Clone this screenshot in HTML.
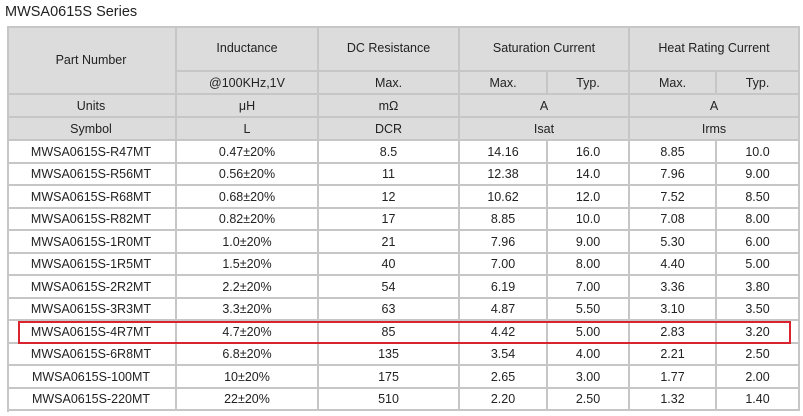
<!DOCTYPE html>
<html><head><meta charset="utf-8"><style>
body{margin:0;width:803px;height:416px;background:#fff;overflow:hidden;font-family:"Liberation Sans",Arial,sans-serif;color:#222;position:relative}
.title{position:absolute;left:5px;top:4px;font-size:14.5px;color:#222}
.c{position:absolute;box-sizing:border-box;border-right:2px solid #c6c6c6;border-bottom:2px solid #c6c6c6;display:flex;align-items:center;justify-content:center;font-size:12.5px}
.h{background:#dcdcdc}
#frame{position:absolute;left:7px;top:26px;width:793px;height:386px;border-left:2px solid #c6c6c6;border-top:2px solid #c6c6c6;box-sizing:border-box;pointer-events:none}
#hl{position:absolute;left:18px;top:321px;width:773px;height:23px;border:2px solid #d9232e;box-sizing:border-box}
</style></head><body>
<div class="title">MWSA0615S Series</div>
<div id="tbl"></div>
<div id="frame"></div>
<div id="hl"></div>
<script>
const parts=["MWSA0615S-R47MT","MWSA0615S-R56MT","MWSA0615S-R68MT","MWSA0615S-R82MT","MWSA0615S-1R0MT","MWSA0615S-1R5MT","MWSA0615S-2R2MT","MWSA0615S-3R3MT","MWSA0615S-4R7MT","MWSA0615S-6R8MT","MWSA0615S-100MT","MWSA0615S-220MT"];
const induct=["0.47±20%","0.56±20%","0.68±20%","0.82±20%","1.0±20%","1.5±20%","2.2±20%","3.3±20%","4.7±20%","6.8±20%","10±20%","22±20%"];
const dcr=["8.5","11","12","17","21","40","54","63","85","135","175","510"];
const isatMax=["14.16","12.38","10.62","8.85","7.96","7.00","6.19","4.87","4.42","3.54","2.65","2.20"];
const isatTyp=["16.0","14.0","12.0","10.0","9.00","8.00","7.00","5.50","5.00","4.00","3.00","2.50"];
const irmsMax=["8.85","7.96","7.52","7.08","5.30","4.40","3.36","3.10","2.83","2.21","1.77","1.32"];
const irmsTyp=["10.0","9.00","8.50","8.00","6.00","5.00","3.80","3.50","3.20","2.50","2.00","1.40"];
const X=[7,177,319,460,548,630,717,800];
const t=document.getElementById('tbl');
function cell(c0,c1,y0,y1,txt,h,name){
  const d=document.createElement('div');
  d.className='c'+(h?' h':'');
  d.style.left=X[c0]+'px';d.style.top=y0+'px';
  d.style.width=(X[c1]-X[c0])+'px';d.style.height=(y1-y0)+'px';
  d.textContent=txt;
  
  
  t.appendChild(d);
}
cell(0,1,26,95,"Part Number",1,"header-part-number");
cell(1,2,26,72,"Inductance",1,"header-inductance");
cell(2,3,26,72,"DC Resistance",1,"header-dc-resistance");
cell(3,5,26,72,"Saturation Current",1,"header-saturation-current");
cell(5,7,26,72,"Heat Rating Current",1,"header-heat-rating-current");
const sub=["@100KHz,1V","Max.","Max.","Typ.","Max.","Typ."];
sub.forEach((s,i)=>cell(i+1,i+2,72,95,s,1,"subheader-cell"));
cell(0,1,95,118,"Units",1,"units-label");
cell(1,2,95,118,"μH",1,"units-cell");
cell(2,3,95,118,"mΩ",1,"units-cell");
cell(3,5,95,118,"A",1,"units-cell");
cell(5,7,95,118,"A",1,"units-cell");
cell(0,1,118,141,"Symbol",1,"symbol-label");
cell(1,2,118,141,"L",1,"symbol-cell");
cell(2,3,118,141,"DCR",1,"symbol-cell");
cell(3,5,118,141,"Isat",1,"symbol-cell");
cell(5,7,118,141,"Irms",1,"symbol-cell");
const rh=22.5;
parts.forEach((p,i)=>{
  const y0=Math.round(141+i*rh),y1=Math.round(141+(i+1)*rh);
  const vals=[p,induct[i],dcr[i],isatMax[i],isatTyp[i],irmsMax[i],irmsTyp[i]];
  vals.forEach((v,j)=>cell(j,j+1,y0,y1,v,0,"data-cell"));
});
</script>
</body></html>
